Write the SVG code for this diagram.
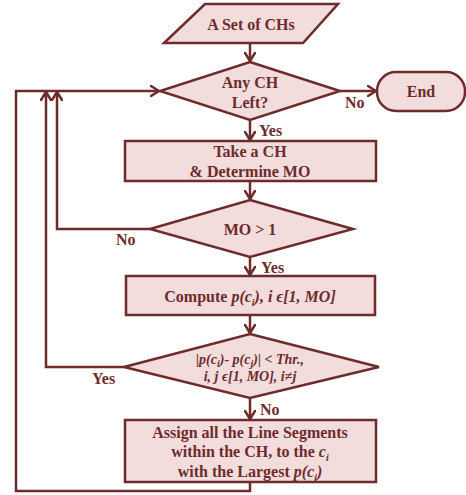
<svg xmlns="http://www.w3.org/2000/svg" width="466" height="495" viewBox="0 0 466 495">
<style>
.shape{fill:#f2dcdc;stroke:#6e2b2b;stroke-width:2.5}
.line{fill:none;stroke:#6e2b2b;stroke-width:2.5}
text{font-family:"Liberation Serif","Times New Roman",serif;font-weight:bold;font-size:16px;fill:#6e2b2b;text-anchor:middle}
.lbl{text-anchor:start}
.it{font-style:italic}
.sub{font-size:10px}
</style>
<defs>
<marker id="arr" viewBox="0 0 10 12" refX="9" refY="6" markerWidth="10" markerHeight="12" markerUnits="userSpaceOnUse" orient="auto">
<path d="M1,1 L9,6 L1,11" fill="none" stroke="#6e2b2b" stroke-width="2.5" stroke-linecap="round" stroke-linejoin="round"/>
</marker>
</defs>
<g id="connectors">
<line class="line" x1="250" y1="43" x2="250" y2="61" marker-end="url(#arr)"/>
<line class="line" x1="340" y1="91" x2="376" y2="91" marker-end="url(#arr)"/>
<line class="line" x1="250" y1="120" x2="250" y2="140" marker-end="url(#arr)"/>
<line class="line" x1="250" y1="181" x2="250" y2="199" marker-end="url(#arr)"/>
<line class="line" x1="250" y1="257" x2="250" y2="275" marker-end="url(#arr)"/>
<line class="line" x1="250" y1="315" x2="250" y2="333" marker-end="url(#arr)"/>
<line class="line" x1="250" y1="398" x2="250" y2="419" marker-end="url(#arr)"/>
<polyline class="line" points="250,482 250,491 16,491 16,91 159,91" marker-end="url(#arr)"/>
<polyline class="line" points="150,229 57,229 57,92" marker-end="url(#arr)"/>
<polyline class="line" points="124,367 46,367 46,92" marker-end="url(#arr)"/>
<text class="lbl" x="345" y="108">No</text>
<text class="lbl" x="259" y="136">Yes</text>
<text class="lbl" x="116" y="245">No</text>
<text class="lbl" x="261" y="273">Yes</text>
<text class="lbl" x="92" y="384">Yes</text>
<text class="lbl" x="260" y="415">No</text>
</g>
<g id="start">
<polygon class="shape" points="205,4 338,4 303,43 164,43"/>
<text x="251" y="30">A Set of CHs</text>
</g>
<g id="anyCH">
<polygon class="shape" points="250,62 340,91 250,120 160,91"/>
<text x="250" y="88">Any CH</text>
<text x="250" y="108">Left?</text>
</g>
<g id="end">
<rect class="shape" x="377" y="72" width="88" height="39" rx="19" ry="19"/>
<text x="421" y="97">End</text>
</g>
<g id="takeCH">
<rect class="shape" x="125" y="141" width="251" height="40"/>
<text x="250" y="157">Take a CH</text>
<text x="250" y="177">&amp; Determine MO</text>
</g>
<g id="moCheck">
<polygon class="shape" points="250,200 353,229 250,257 150,229"/>
<text x="250" y="235">MO &gt; 1</text>
</g>
<g id="compute">
<rect class="shape" x="126" y="276" width="249" height="39"/>
<text x="250" y="302">Compute <tspan class="it">p(c<tspan class="sub" dy="4">i</tspan><tspan dy="-4">), i ϵ[1, MO]</tspan></tspan></text>
</g>
<g id="thrCheck">
<polygon class="shape" points="250,334 379,367 250,398 124,367"/>
<text x="250" y="364" class="it" style="font-size:14px">|p(c<tspan class="sub" dy="3">i</tspan><tspan dy="-3">)- p(c</tspan><tspan class="sub" dy="3">j</tspan><tspan dy="-3">)| &lt; Thr.,</tspan></text>
<text x="250" y="381" class="it" style="font-size:14px">i, j ϵ[1, MO], i≠j</text>
</g>
<g id="assign">
<rect class="shape" x="125" y="420" width="251" height="62"/>
<text x="250" y="438">Assign all the Line Segments</text>
<text x="250" y="457">within the CH, to the <tspan class="it">c<tspan class="sub" dy="4">i</tspan></tspan></text>
<text x="250" y="477">with the Largest <tspan class="it">p(c<tspan class="sub" dy="4">i</tspan><tspan dy="-4">)</tspan></tspan></text>
</g>
</svg>
